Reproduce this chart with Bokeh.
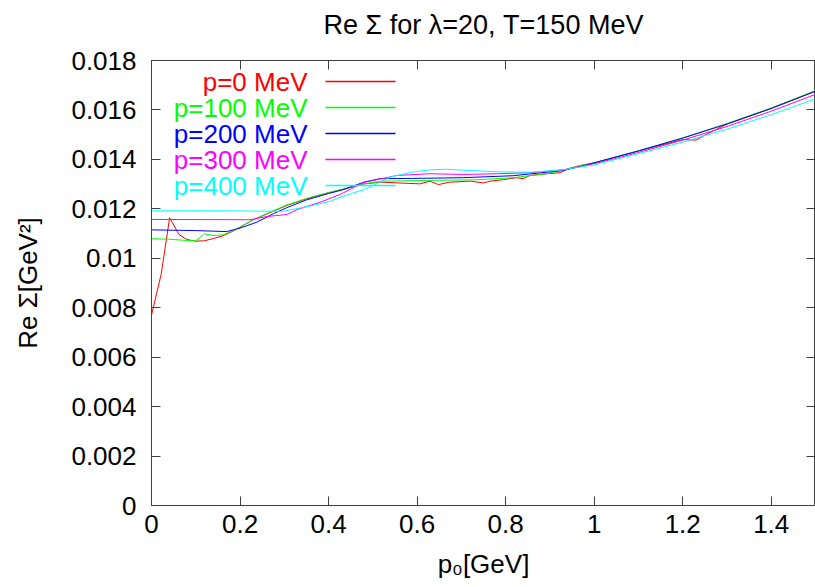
from bokeh.plotting import figure
from bokeh.models import LinearAxis, FixedTicker, PrintfTickFormatter, Label, Range1d
from bokeh.embed import file_html
from bokeh.resources import INLINE

FONT = "Liberation Sans"
AXIS_COLOR = "#404040"

# Re Sigma [GeV^2] against p0 [GeV], one curve per three-momentum p
x_p0 = [0, 0.022, 0.041, 0.062, 0.08, 0.10, 0.12, 0.14, 0.16, 0.18, 0.2, 0.23,
        0.275, 0.306, 0.35, 0.40, 0.43, 0.48, 0.52, 0.555, 0.607, 0.629, 0.648,
        0.674, 0.72, 0.75, 0.765, 0.795, 0.825, 0.84, 0.855, 0.892, 0.923, 0.941,
        0.968, 1.0, 1.1, 1.2, 1.23, 1.25, 1.3, 1.4, 1.5]
y_p0 = [0.0077, 0.00937, 0.01164, 0.01096, 0.01076, 0.01069, 0.01071, 0.01080,
        0.01090, 0.01106, 0.01126, 0.01156, 0.0119, 0.01214, 0.0124, 0.01265,
        0.01277, 0.01301, 0.01308, 0.01305, 0.01301, 0.01312, 0.01298, 0.01308,
        0.01312, 0.01305, 0.01312, 0.01318, 0.01326, 0.01322, 0.01335, 0.01342,
        0.01346, 0.01362, 0.01375, 0.01386, 0.01434, 0.01480, 0.01478, 0.01498,
        0.01543, 0.01606, 0.01676]

x_p100 = [0, 0.04, 0.08, 0.10, 0.12, 0.14, 0.162, 0.185, 0.2, 0.23, 0.275, 0.306,
          0.35, 0.40, 0.43, 0.48, 0.52, 0.63, 0.74, 0.817, 0.892, 0.945, 0.968,
          1.0, 1.1, 1.2, 1.3, 1.4, 1.5]
y_p100 = [0.01079, 0.01077, 0.01072, 0.01071, 0.01099, 0.01092, 0.01095, 0.01112,
          0.01126, 0.01156, 0.01192, 0.01216, 0.01242, 0.01266, 0.01279, 0.01301,
          0.01312, 0.01315, 0.01318, 0.01326, 0.01342, 0.01362, 0.01375, 0.01386,
          0.01435, 0.01487, 0.01545, 0.01608, 0.01678]

x_p200 = [0, 0.1, 0.17, 0.2, 0.238, 0.275, 0.306, 0.35, 0.40, 0.43, 0.48, 0.516,
          0.59, 0.705, 0.817, 0.93, 0.968, 1.0, 1.1, 1.2, 1.3, 1.4, 1.5]
y_p200 = [0.01115, 0.01112, 0.01108, 0.01122, 0.01146, 0.01180, 0.01205, 0.01236,
          0.01262, 0.01276, 0.01308, 0.01322, 0.01323, 0.01326, 0.01334, 0.01355,
          0.01371, 0.01386, 0.01434, 0.01486, 0.01543, 0.01606, 0.01676]

x_p300 = [0, 0.223, 0.261, 0.306, 0.329, 0.38, 0.426, 0.479, 0.554, 0.629, 0.705,
          0.78, 0.855, 0.93, 0.968, 1.0, 1.1, 1.2, 1.3, 1.4, 1.5]
y_p300 = [0.01157, 0.01156, 0.01169, 0.01177, 0.01197, 0.01226, 0.01258, 0.01306,
          0.01335, 0.01342, 0.01339, 0.01342, 0.01346, 0.01358, 0.01371, 0.01382,
          0.01428, 0.01478, 0.01533, 0.01595, 0.01663]

x_p400 = [0, 0.15, 0.298, 0.365, 0.404, 0.426, 0.479, 0.539, 0.584, 0.629, 0.667,
          0.72, 0.78, 0.855, 0.93, 0.968, 1.0, 1.1, 1.2, 1.3, 1.4, 1.5]
y_p400 = [0.01192, 0.01192, 0.0119, 0.01214, 0.01231, 0.01247, 0.01277, 0.01328,
          0.01347, 0.01358, 0.0136, 0.01355, 0.0135, 0.01348, 0.01358, 0.01369,
          0.01378, 0.01423, 0.01470, 0.01522, 0.01581, 0.01645]

labels = ["p=0 MeV", "p=100 MeV", "p=200 MeV", "p=300 MeV", "p=400 MeV"]
colors = ["#ff0000", "#00ff00", "#0000ff", "#ff00ff", "#00ffff"]
xs = [x_p0, x_p100, x_p200, x_p300, x_p400]
ys = [y_p0, y_p100, y_p200, y_p300, y_p400]

x_ticks = [0, 0.2, 0.4, 0.6, 0.8, 1.0, 1.2, 1.4]
y_ticks = [0, 0.002, 0.004, 0.006, 0.008, 0.010, 0.012, 0.014, 0.016, 0.018]

TITLE = "Re \u03a3 for \u03bb=20, T=150 MeV"
FRAME_W, FRAME_H = 664, 445

p = figure(width=815, height=587, output_backend="svg", toolbar_location=None,
           x_range=Range1d(0, 1.5), y_range=Range1d(0, 0.018),
           min_border_left=151, min_border_right=0, min_border_top=60,
           min_border_bottom=82, x_axis_type=None, y_axis_type=None)
p.background_fill_color = "white"
p.border_fill_color = "white"
p.outline_line_color = AXIS_COLOR
p.outline_line_width = 1
p.grid.visible = False

# pixel-like coordinate system over the frame, used to place the key
p.extra_x_ranges = {"key_x": Range1d(0, FRAME_W)}
p.extra_y_ranges = {"key_y": Range1d(0, FRAME_H)}


def style_axis(ax, ticks, show_labels):
    ax.ticker = FixedTicker(ticks=ticks)
    ax.formatter = PrintfTickFormatter(format="%g")
    ax.axis_line_color = AXIS_COLOR
    ax.major_tick_line_color = AXIS_COLOR
    ax.major_tick_in = 9
    ax.major_tick_out = 0
    ax.minor_tick_line_color = None
    ax.major_label_text_font = FONT
    ax.axis_label_text_font = FONT
    ax.axis_label_text_font_style = "normal"
    ax.axis_label_text_font_size = "26px"
    ax.axis_label_text_color = "#000000"
    if show_labels:
        ax.major_label_text_font_size = "26px"
        ax.major_label_text_color = "#000000"
    else:
        # mirrored ticks only, no numbers on the top and right sides
        ax.major_label_text_font_size = "1px"
        ax.major_label_text_color = None
        ax.major_label_standoff = 0


xb = LinearAxis(axis_label="p\u2080[GeV]")
style_axis(xb, x_ticks, True)
xb.major_label_standoff = 9
xb.axis_label_standoff = 13
p.add_layout(xb, "below")

yl = LinearAxis(axis_label="Re \u03a3[GeV\u00b2]")
style_axis(yl, y_ticks, True)
yl.major_label_standoff = 15
yl.axis_label_standoff = 25
p.add_layout(yl, "left")

# top side: mirrored ticks, with the chart title as its label
xt = LinearAxis(axis_label=TITLE)
style_axis(xt, x_ticks, False)
xt.axis_label_text_font_size = "27px"
xt.axis_label_standoff = 21
p.add_layout(xt, "above")

yr = LinearAxis()
style_axis(yr, y_ticks, False)
p.add_layout(yr, "right")

for x, y, c in zip(xs, ys, colors):
    p.line(x, y, line_color=c, line_width=1)

# key: coloured text right-aligned, line sample to its right
key_text_right = 156
key_line_start = 174
key_line_end = 244
key_top = 424
key_step = 26
for i, (lab, c) in enumerate(zip(labels, colors)):
    yy = key_top - i * key_step
    p.add_layout(Label(x=key_text_right, y=yy, x_units="screen", y_units="screen",
                       text=lab, text_color=c, text_font=FONT, text_font_size="26px",
                       text_align="right", text_baseline="middle"))
    p.segment(x0=[key_line_start], y0=[yy], x1=[key_line_end], y1=[yy],
              x_range_name="key_x", y_range_name="key_y",
              line_color=c, line_width=1.6)

open("out.html", "w").write(file_html(p, INLINE))
